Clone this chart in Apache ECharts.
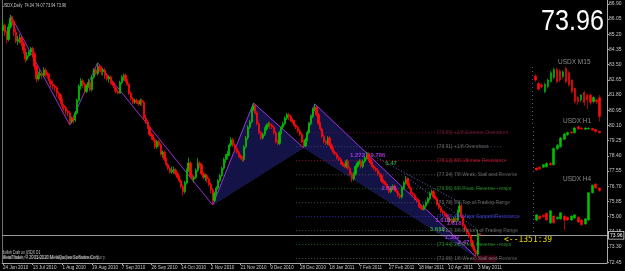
<!DOCTYPE html>
<html><head><meta charset="utf-8">
<script src="https://cdn.jsdelivr.net/npm/echarts@6/dist/echarts.min.js"></script>
<style>html,body{margin:0;padding:0;background:#000;}#c{width:625px;height:271px;}</style>
</head><body><div id="c"></div>
<script>
// ---------- data ----------
const tickLabels = ['24 Jun 2010','13 Jul 2010','1 Aug 2010','19 Aug 2010','7 Sep 2010','26 Sep 2010','14 Oct 2010','2 Nov 2010','21 Nov 2010','9 Dec 2010','28 Dec 2010','18 Jan 2011','7 Feb 2011','27 Feb 2011','18 Mar 2011','10 Apr 2011','3 May 2011'];
const barsPerTick = 16;
const slotCount = 326;
const yTicks = [72.45,73.30,74.15,75.00,75.85,76.70,77.55,78.40,79.25,80.10,80.95,81.80,82.65,83.50,84.35,85.20,86.05,86.90];
const lastPrice = 73.96;
// daily bars: [open, close, low, high]
const dailyBars = [
[85.4,85.7,85.2,86.0],[85.7,85.3,85.1,85.8],[85.3,84.9,84.7,85.4],[84.9,85.6,84.8,85.8],[85.6,86.1,85.5,86.27],
[86.1,85.9,85.7,86.2],[85.9,85.3,85.1,86.0],[85.3,84.8,84.7,85.5],[84.8,84.9,84.6,85.1],[84.9,85.0,84.7,85.2],
[85.0,84.7,84.5,85.1],[84.7,84.3,84.1,84.8],[84.3,83.8,83.6,84.4],[83.8,84.0,83.7,84.2],[84.0,84.2,83.9,84.3],
[84.2,84.4,84.0,84.5],[84.4,84.1,83.9,84.5],[84.1,83.4,83.2,84.2],[83.4,82.7,82.5,83.5],[82.7,82.9,82.6,83.1],
[82.9,83.0,82.7,83.2],[83.0,82.9,82.7,83.1],[82.9,83.2,82.8,83.35],[83.2,83.0,82.8,83.3],[83.0,82.9,82.7,83.1],
[82.9,82.6,82.4,83.0],[82.6,82.4,82.2,82.7],[82.4,82.3,82.1,82.6],[82.3,82.2,82.0,82.4],[82.2,81.9,81.7,82.3],
[81.9,81.8,81.6,82.0],[81.8,81.5,81.3,81.9],[81.5,81.2,81.0,81.6],[81.2,81.1,80.9,81.3],[81.1,80.9,80.7,81.2],
[80.9,80.8,80.6,81.0],[80.8,80.3,80.12,80.9],[80.3,80.5,80.2,80.6],[80.5,80.4,80.2,80.6],[80.4,80.8,80.3,80.9],
[80.8,81.5,80.7,81.6],[81.5,82.3,81.4,82.4],[82.3,82.6,82.1,82.75],[82.6,82.4,82.2,82.7],[82.4,82.0,81.9,82.5],
[82.0,82.3,81.9,82.4],[82.3,82.5,82.2,82.7],[82.5,82.1,82.0,82.6],[82.1,82.8,82.0,82.9],[82.8,83.2,82.7,83.3],
[83.2,83.0,82.9,83.3],[83.0,83.4,82.9,83.6],[83.4,83.3,83.1,83.5],[83.3,83.1,82.9,83.4],[83.1,83.2,82.9,83.3],
[83.2,82.9,82.7,83.3],[82.9,82.7,82.6,83.0],[82.7,82.8,82.5,82.9],[82.8,82.5,82.4,82.9],[82.5,82.4,82.3,82.6],
[82.4,82.2,82.0,82.5],[82.2,82.0,81.9,82.3],[82.0,81.9,81.85,82.1],[81.9,82.5,81.9,82.6],[82.5,82.8,82.4,82.9],
[82.8,82.9,82.6,83.0],[82.9,82.6,82.5,83.0],[82.6,82.4,82.3,82.7],[82.4,81.9,81.8,82.5],[81.9,81.6,81.5,82.0],
[81.6,81.4,81.3,81.7],[81.4,81.5,81.3,81.6],[81.5,81.4,81.3,81.6],[81.4,81.3,81.2,81.5],[81.3,81.5,81.2,81.6],
[81.5,81.4,81.2,81.6],[81.4,80.5,80.4,81.5],[80.5,80.3,80.2,80.7],[80.3,80.0,79.9,80.4],[80.0,79.6,79.5,80.1],
[79.6,79.5,79.3,79.7],[79.5,79.3,79.2,79.6],[79.3,78.9,78.8,79.4],[78.9,79.2,78.8,79.3],[79.2,79.0,78.9,79.3],
[79.0,78.5,78.4,79.1],[78.5,78.6,78.3,78.7],[78.6,78.2,78.1,78.7],[78.2,77.9,77.8,78.3],[77.9,77.7,77.6,78.0],
[77.7,77.5,77.4,77.8],[77.5,77.6,77.4,77.8],[77.6,77.65,77.4,77.8],[77.6,77.4,77.3,77.7],[77.4,77.2,77.1,77.5],
[77.2,77.0,76.9,77.3],[77.0,76.7,76.6,77.1],[76.7,76.4,76.2,76.8],[76.4,76.9,76.3,77.0],[76.9,77.6,76.8,77.7],
[77.6,78.0,77.5,78.3],[78.0,77.3,77.2,78.1],[77.3,77.1,77.0,77.4],[77.1,77.2,76.9,77.3],[77.2,77.6,77.1,77.7],
[77.6,78.0,77.5,78.27],[78.0,77.9,77.7,78.1],[77.9,77.4,77.3,78.0],[77.4,77.2,77.1,77.5],[77.2,77.3,77.0,77.4],
[77.3,77.1,76.9,77.4],[77.1,76.8,76.7,77.2],[76.8,76.5,76.3,76.9],[76.5,75.9,75.65,76.6],[75.9,76.3,75.8,76.4],
[76.3,76.6,76.2,76.7],[76.6,77.0,76.5,77.1],[77.0,77.3,76.9,77.4],[77.3,77.7,77.2,77.8],[77.7,78.2,77.6,78.3],
[78.2,78.4,78.0,78.5],[78.4,78.5,78.2,78.7],[78.5,79.0,78.4,79.1],[79.0,79.3,78.9,79.45],[79.3,79.0,78.9,79.4],
[79.0,78.8,78.6,79.1],[78.8,78.6,78.5,78.9],[78.6,78.4,78.3,78.7],[78.4,78.3,78.2,78.5],[78.3,78.2,78.05,78.4],
[78.2,78.9,78.1,79.0],[78.9,79.4,78.8,79.5],[79.4,80.0,79.3,80.1],[80.0,80.3,79.9,80.4],[80.3,81.0,80.2,81.1],
[81.0,81.2,80.9,81.35],[81.2,80.8,80.7,81.3],[80.8,80.2,80.1,80.9],[80.2,79.7,79.6,80.3],[79.7,79.4,79.3,79.8],
[79.4,79.6,79.3,79.7],[79.6,79.9,79.5,80.0],[79.9,80.1,79.8,80.2],[80.1,80.2,80.0,80.3],[80.2,80.1,79.9,80.3],
[80.1,80.0,79.9,80.2],[80.0,79.7,79.6,80.1],[79.7,79.2,79.1,79.8],[79.2,79.1,78.98,79.3],[79.1,79.7,79.0,79.8],
[79.7,80.0,79.6,80.1],[80.0,80.2,79.9,80.3],[80.2,80.5,80.1,80.6],[80.5,80.7,80.4,80.8],[80.7,80.6,80.4,80.8],
[80.6,80.4,80.3,80.7],[80.4,80.3,80.2,80.5],[80.3,80.1,80.0,80.4],[80.1,80.0,79.9,80.2],[80.0,79.8,79.7,80.1],
[79.8,79.6,79.5,79.9],[79.6,79.2,79.1,79.7],[79.2,78.95,78.85,79.3],[78.95,79.3,78.9,79.4],[79.3,79.7,79.2,79.8],
[79.7,80.2,79.6,80.3],[80.2,80.6,80.1,80.7],[80.6,81.0,80.5,81.1],[81.0,81.1,80.9,81.3],[81.1,80.7,80.6,81.2],
[80.7,80.2,80.1,80.8],[80.2,79.9,79.8,80.3],[79.9,79.5,79.4,80.0],[79.5,79.2,79.1,79.6],[79.2,79.1,79.0,79.3],
[79.1,79.4,79.0,79.5],[79.4,79.0,78.9,79.5],[79.0,78.8,78.7,79.1],[78.8,78.6,78.5,78.9],[78.6,78.5,78.4,78.7],
[78.5,78.3,78.2,78.6],[78.3,78.2,78.1,78.4],[78.2,78.0,77.9,78.3],[78.0,77.9,77.8,78.1],[77.9,77.8,77.7,78.0],
[77.8,78.1,77.7,78.2],[78.1,77.7,77.6,78.2],[77.7,77.4,77.3,77.8],[77.4,77.1,76.94,77.5],[77.1,77.4,77.0,77.5],
[77.4,77.8,77.3,77.9],[77.8,78.0,77.7,78.1],[78.0,78.1,77.9,78.2],[78.1,77.8,77.7,78.2],[77.8,78.1,77.7,78.2],
[78.1,78.3,78.0,78.4],[78.3,78.5,78.2,78.6],[78.5,78.2,78.1,78.6],[78.2,78.0,77.9,78.3],[78.0,77.8,77.7,78.1],
[77.8,77.7,77.6,77.9],[77.7,77.6,77.5,77.8],[77.6,77.4,77.3,77.7],[77.4,77.3,77.2,77.5],[77.3,77.0,76.9,77.4],
[77.0,76.9,76.8,77.1],[76.9,76.8,76.7,77.0],[76.8,76.6,76.5,76.9],[76.6,76.4,76.3,76.7],[76.4,76.6,76.3,76.7],
[76.6,76.7,76.5,76.8],[76.7,76.5,76.4,76.8],[76.5,76.4,76.3,76.6],[76.4,76.2,76.1,76.5],[76.2,76.1,76.0,76.3],
[76.1,76.6,76.0,76.7],[76.6,76.9,76.5,77.0],[76.9,77.1,76.8,77.25],[77.1,76.8,76.7,77.2],[76.8,76.6,76.5,76.9],
[76.6,76.3,76.2,76.7],[76.3,76.2,76.1,76.4],[76.2,76.0,75.9,76.3],[76.0,75.9,75.8,76.1],[75.9,75.6,75.5,76.0],
[75.6,75.5,75.4,75.7],[75.5,75.4,75.35,75.6],[75.4,75.6,75.35,75.7],[75.6,75.8,75.5,75.9],[75.8,76.0,75.7,76.1],
[76.0,76.3,75.9,76.4],[76.3,76.4,76.2,76.5],[76.4,76.1,76.0,76.5],[76.1,76.0,75.9,76.2],[76.0,75.7,75.6,76.1],
[75.7,75.5,75.4,75.8],[75.5,75.3,75.2,75.6],[75.3,75.2,75.1,75.4],[75.2,75.1,75.0,75.3],[75.1,75.0,74.9,75.2],
[75.0,74.8,74.7,75.1],[74.8,74.85,74.7,74.95],[74.85,74.7,74.6,74.9],[74.7,74.9,74.65,75.0],[74.9,74.8,74.7,75.0],
[74.8,75.3,74.7,75.4],[75.3,75.6,75.2,75.8],[75.6,75.0,74.9,75.7],[75.0,74.5,74.4,75.1],[74.5,74.3,74.2,74.6],
[74.3,74.1,74.0,74.4],[74.1,73.9,73.8,74.2],[73.9,73.6,73.5,74.0],[73.6,73.3,73.2,73.7],[73.3,73.1,73.0,73.4],
[73.1,72.9,72.75,73.2],[72.9,74.04,72.8,74.25],[74.04,73.96,73.94,74.07]
];
// harmonic pattern zigzag (bar index, price)
const zigzag = [[4,86.27],[36,80.12],[51,83.6],[113,75.65],[135,81.35],[162,78.85],[168,81.3],[255,72.75]];
// filled pattern triangles (bar index / price triplets)
const triangles = [[113,75.65,135,81.35,162,78.85],[162,78.85,168,81.3,255,72.75]];
const trendDots = [[[196,78.6],[246,75.8]],[[217,77.25],[256,74.25]]];
// Murrey math levels
const murreyLevels = [79.69,78.91,78.13,77.34,76.56,75.78,75.00,74.22,73.44,72.66];
const murreyNames = ['+2/8 Extreme Overshoot','+1/8 Overshoot','8/8 Ultimate Resistance','7/8 Weak, Stall and Reverse','6/8 Pivot, Reverse - major','5/8 Top of Trading Range','4/8 Major Support/Resistance','3/8 Bottom of Trading Range','2/8 Pivot, Reverse - major','1/8 Weak, Stall and Reverse'];
const murreyLineColors = ['#6a1030','#4a4a6a','#a01030','#505050','#1f6a1f','#505050','#3030c0','#505050','#1f6a1f','#505050'];
const murreyTextColors = ['#8b2040','#7a7a7a','#d02040','#7a7a7a','#30a030','#7a7a7a','#5050ff','#7a7a7a','#30a030','#7a7a7a'];
const murreyFrom = 158, murreyTo = 269, murreyLabelAt = 234;
// ratio labels
const ratioLabels = [
 [187,78.45,'1.272','#c040ff'],[198,78.45,'0.786','#c040ff'],[206,78.0,'1.47','#40c040'],[204,76.6,'2.618','#c040ff'],
 [230,74.3,'3.618','#40c040'],[233,74.82,'1.618','#c040ff'],[239,74.62,'1.618','#c040ff'],[238,73.86,'1.382','#c040ff'],[245,73.58,'2.47','#c040ff']
];
const darkBox = [[254,72.45],[266,72.84]];
// mini charts [open, close, low, high]
const m15Bars = [[74.18,74.13,74.11,74.20],[74.09,74.02,74.00,74.11],[74.07,74.05,74.03,74.09],[73.99,74.08,73.97,74.10],[74.05,74.13,74.03,74.15],[74.11,74.22,74.10,74.24],[74.16,74.26,74.14,74.28],[74.26,74.11,74.09,74.28],[74.24,74.13,74.11,74.26],[74.17,74.23,74.15,74.25],[74.27,74.11,74.09,74.29],[74.22,74.07,74.05,74.24],[74.13,73.99,73.97,74.14],[74.03,73.87,73.85,74.04],[73.92,73.87,73.83,73.94],[73.89,73.95,73.86,73.96],[73.98,73.86,73.82,74.00],[73.95,73.89,73.78,73.96],[73.95,73.86,73.83,73.97],[73.87,73.92,73.85,73.94],[73.89,73.87,73.84,73.90],[73.92,73.69,73.63,73.95]];
const h1Bars = [[73.00,72.95,72.93,73.01],[73.02,72.98,72.95,73.04],[73.02,73.08,73.00,73.10],[73.03,73.12,73.01,73.14],[73.12,73.08,73.05,73.14],[73.08,73.49,73.06,73.52],[73.48,73.57,73.45,73.60],[73.53,73.75,73.50,73.78],[73.72,73.85,73.70,73.88],[73.83,73.89,73.80,73.91],[73.90,73.88,73.85,73.92],[73.88,74.00,73.86,74.03],[74.03,73.98,73.96,74.06],[74.00,73.98,73.95,74.02],[73.97,74.00,73.95,74.02],[73.98,74.00,73.96,74.01],[73.99,73.95,73.93,74.00],[73.96,73.91,73.89,73.98],[73.92,73.88,73.86,73.93]];
const h4Bars = [[72.90,73.08,72.86,73.10],[73.04,72.94,72.91,73.06],[73.07,73.01,72.98,73.09],[73.14,72.90,72.87,73.16],[72.80,73.22,72.76,73.24],[73.04,72.80,72.77,73.06],[72.94,73.00,72.91,73.02],[72.94,73.15,72.90,73.17],[73.04,72.90,72.55,73.06],[73.00,72.90,72.87,73.02],[72.90,73.04,72.87,73.06],[72.97,73.08,72.94,73.10],[73.00,72.83,72.80,73.02],[72.90,72.73,72.70,72.92],[72.76,72.94,72.73,72.96],[72.90,73.85,72.87,73.87],[73.85,74.12,73.83,74.14],[74.16,74.02,73.99,74.19],[74.02,73.92,73.90,74.04]];
const miniDefs = [
 {name:'USDX M15', bars:m15Bars, top:66, height:58, min:73.60, max:74.30, labelY:62, labelX:558},
 {name:'USDX H1',  bars:h1Bars,  top:124, height:48, min:72.90, max:74.10, labelY:121, labelX:563},
 {name:'USDX H4',  bars:h4Bars,  top:180, height:52, min:72.48, max:74.30, labelY:179, labelX:563}
];
// ---------- chart ----------
const UP = '#00c000', DOWN = '#ff0a0a';
const FONT = 'Liberation Sans';
const chart = echarts.init(document.getElementById('c'), null, {renderer:'canvas'});
const slots = Array.from({length: slotCount}, (_, i) => i);

const grids = [{left:1, right:18, top:0, bottom:8}];
const xAxes = [{
  type:'category', data:slots, gridIndex:0, boundaryGap:true,
  axisLine:{show:true, lineStyle:{color:'#a8a8a8', width:1}},
  axisTick:{show:true, alignWithLabel:true, length:2, lineStyle:{color:'#a8a8a8'},
    interval:(i)=> i % barsPerTick === 0 && i / barsPerTick < tickLabels.length},
  axisLabel:{show:true, interval:(i)=> i % barsPerTick === 0 && i / barsPerTick < tickLabels.length,
    formatter:(v, i)=> tickLabels[i / barsPerTick] || '', color:'#c8c8c8', fontSize:4.6, fontFamily:FONT, align:'left', margin:2},
  splitLine:{show:false}
}];
const yAxes = [{
  type:'value', gridIndex:0, position:'right', min:72.41, max:87.11, scale:true,
  axisLine:{show:true, lineStyle:{color:'#a8a8a8'}},
  axisTick:{show:true, length:2, customValues:yTicks, lineStyle:{color:'#a8a8a8'}},
  axisLabel:{show:true, customValues:yTicks, formatter:(v)=>v.toFixed(2), color:'#c8c8c8', fontSize:5, fontFamily:FONT, margin:2},
  splitLine:{show:false}
},{
  type:'value', gridIndex:0, position:'left', min:72.41, max:87.11,
  axisLine:{show:true, lineStyle:{color:'#707070'}}, axisTick:{show:false}, axisLabel:{show:false}, splitLine:{show:false}
}];

const series = [];
series.push({
  type:'candlestick', xAxisIndex:0, yAxisIndex:0, data:dailyBars, barWidth:'92%',
  itemStyle:{color:UP, color0:DOWN, borderColor:UP, borderColor0:DOWN, borderWidth:0.8},
  z:5,
  markLine:{silent:true, symbol:'none', animation:false,
    lineStyle:{color:'#9a9a9a', type:'solid', width:1},
    label:{show:true, position:'end', formatter:lastPrice.toFixed(2), color:'#fff', fontSize:5, fontFamily:FONT,
      backgroundColor:'#000', borderColor:'#e0e0e0', borderWidth:0.8, padding:[1,1], distance:2},
    data:[{yAxis:lastPrice}]},
  markArea:{silent:true, itemStyle:{color:'#3a0012'},
    data:[[{xAxis:darkBox[0][0], yAxis:darkBox[0][1]},{xAxis:darkBox[1][0], yAxis:darkBox[1][1]}]]}
});
// triangles
series.push({
  type:'custom', xAxisIndex:0, yAxisIndex:0, z:2, silent:true,
  dimensions:['x1','y1','x2','y2','x3','y3'],
  encode:{x:[0,2,4], y:[1,3,5]},
  data:triangles,
  renderItem:(params, api)=>{
    const p = [0,1,2].map(k=>api.coord([api.value(2*k), api.value(2*k+1)]));
    return {type:'polygon', shape:{points:p}, style:{fill:'rgba(32,32,120,0.6)', stroke:'rgba(80,80,190,0.6)', lineWidth:0.6, lineDash:[1,1]}};
  }
});
// zigzag
series.push({type:'line', xAxisIndex:0, yAxisIndex:0, data:zigzag, symbol:'none', z:4, silent:true,
  lineStyle:{color:'#9a30d8', width:1}});
trendDots.forEach(seg=>series.push({type:'line', data:seg, symbol:'none', z:4, silent:true,
  lineStyle:{color:'#6070c0', width:1, type:[1,2]}}));
// Murrey lines and labels
murreyLevels.forEach((lv, k)=>{
  series.push({type:'line', data:[[murreyFrom, lv],[murreyTo, lv]], symbol:'none', z:3, silent:true,
    lineStyle:{color:murreyLineColors[k], width:1, type:[1,2]}});
});
series.push({type:'scatter', symbolSize:0, z:6, silent:true,
  data:murreyLevels.map((lv,k)=>({value:[murreyLabelAt, lv],
    label:{show:true, position:'right', distance:0, formatter:'['+lv.toFixed(2)+'] '+murreyNames[k], color:murreyTextColors[k], fontSize:5, fontFamily:FONT}}))
});
series.push({type:'scatter', symbolSize:0, z:7, silent:true,
  data:ratioLabels.map(r=>({value:[r[0], r[1]],
    label:{show:true, position:'right', distance:0, formatter:r[2], color:r[3], fontSize:6, fontWeight:'bold', fontFamily:FONT}}))
});

// mini charts
miniDefs.forEach((m, k)=>{
  const gi = k+1;
  grids.push({left:531, width:70, top:m.top, height:m.height});
  xAxes.push({type:'category', gridIndex:gi, data:Array.from({length:m.bars.length+1},(_,i)=>i), show:false, boundaryGap:true});
  yAxes.push({type:'value', gridIndex:gi, min:m.min, max:m.max, show:false, splitLine:{show:false}});
  series.push({type:'candlestick', xAxisIndex:gi+0, yAxisIndex:gi+1, barWidth:'60%',
    data:m.bars.map((b,i)=>[i+1, b[0], b[1], b[2], b[3]]),
    encode:{x:0, y:[1,2,3,4]},
    itemStyle:{color:UP, color0:DOWN, borderColor:UP, borderColor0:DOWN, borderWidth:0.6},
    markLine:{silent:true, symbol:'none', label:{show:false}, lineStyle:{color:'#4a5a9a', type:[1,3], width:1}, data:[{xAxis:0}]}
  });
});

const graphics = [
  {type:'text', x:2, y:2, scaleX:0.7, style:{text:'USDX,Daily  74.04 74.07 73.94 73.96', fill:'#c8c8c8', font:'5.5px '+FONT}},
  {type:'text', x:541, y:7, scaleX:0.84, style:{text:lastPrice.toFixed(2), fill:'#ffffff', font:'30px '+FONT}},
  {type:'text', x:504, y:236, style:{text:'<--1351:39', fill:'#e8d800', font:'8px DejaVu Sans Mono'}},
  {type:'text', x:2, y:250, scaleX:0.7, style:{text:'Bullish Crab on USDX D1', fill:'#c8c8c8', font:'4.8px '+FONT}},
  {type:'text', x:2, y:255, scaleX:0.85, style:{text:'MetaTrader, \u00a9 2001-2010 MetaQuotes Software Corp.', fill:'#c8c8c8', font:'4.8px '+FONT}},
  {type:'text', x:3, y:255, scaleX:0.85, style:{text:'Meta Trader 4  \u00a9 2001-2010 MetaQuotes Software Corp.', fill:'rgba(200,200,200,0.6)', font:'4.8px '+FONT}}
];
miniDefs.forEach(m=>graphics.push({type:'text', x:m.labelX, y:m.labelY-3, style:{text:m.name, fill:'#8a8a8a', font:'6.5px '+FONT}}));

chart.setOption({
  backgroundColor:'#000', animation:false,
  grid:grids, xAxis:xAxes, yAxis:yAxes, series:series, graphic:graphics
});
</script></body></html>
